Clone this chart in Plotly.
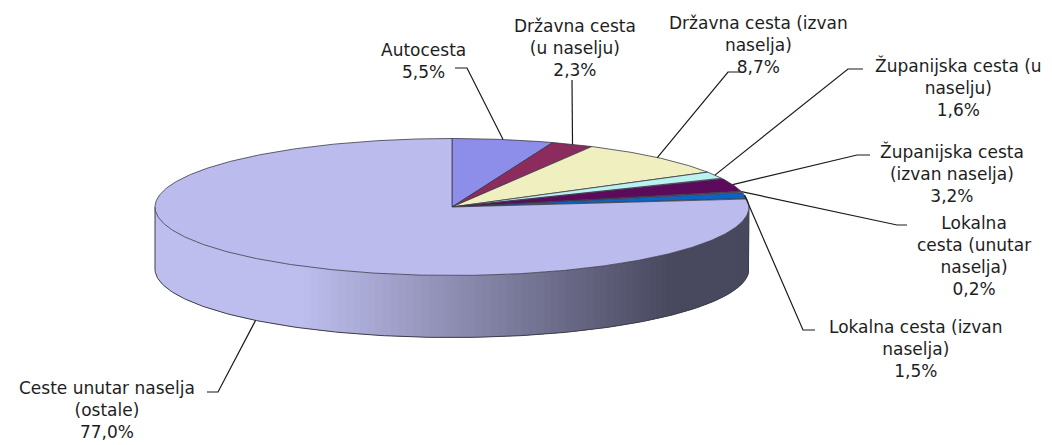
import numpy as np
import plotly.graph_objects as go

# ---------------- data ----------------
categories = [
    "Autocesta",
    "Državna cesta (u naselju)",
    "Državna cesta (izvan naselja)",
    "Županijska cesta (u naselju)",
    "Županijska cesta (izvan naselja)",
    "Lokalna cesta (unutar naselja)",
    "Lokalna cesta (izvan naselja)",
    "Ceste unutar naselja (ostale)",
]
values = [5.5, 2.3, 8.7, 1.6, 3.2, 0.2, 1.5, 77.0]
label_names = [
    "Autocesta",
    "Državna cesta<br>(u naselju)",
    "Državna cesta (izvan<br>naselja)",
    "Županijska cesta (u<br>naselju)",
    "Županijska cesta<br>(izvan naselja)",
    "Lokalna<br>cesta (unutar<br>naselja)",
    "Lokalna cesta (izvan<br>naselja)",
    "Ceste unutar naselja<br>(ostale)",
]
colors = ["#8D8DEA", "#8B2B5E", "#EFEFC0", "#BAF2F2", "#5C0B5C", "#F08080", "#0A64C8", "#BBBBEE"]

# ---------------- layout (pixel space) ----------------
W, H = 1052, 445
cx, cy, rx, ry, depth = 452.0, 207.0, 297.0, 68.5, 62.0

# label block centres and leader elbows/tails
label_x = [423, 575, 758, 958, 952, 974, 916, 107]
label_y = [61, 47.5, 45, 87.5, 173.5, 255.5, 348.5, 410]
elbow_x = [467, 572, 728, 848, 857, 897, 803, 218]
elbow_y = [68, 80, 72, 69, 155, 225, 330, 392]
tail_x = [455, 572, 740, 863, 870, 907, 815, 207]
tail_y = [68, 80, 72, 69, 155, 225, 330, 392]


def ell(theta_deg, dy=0.0):
    t = np.radians(theta_deg)
    return cx + rx * np.sin(t), cy - ry * np.cos(t) + dy


fig = go.Figure()

total = sum(values)
cum = np.concatenate([[0], np.cumsum(values)]) / total * 360.0

# ---------------- front side with gradient (last slice) ----------------
light = np.array([190, 190, 238])
dark = np.array([72, 72, 94])
a_start = max(90.0, cum[-2])
a_end = 270.0
steps = np.linspace(a_start, a_end, 121)
for b0, b1 in zip(steps[:-1], steps[1:]):
    b1e = min(a_end, b1 + 1.2)  # overlap to hide seams
    arc = np.linspace(b0, b1e, 5)
    xt, yt = ell(arc)
    xb, yb = ell(arc[::-1], depth)
    xm = (ell((b0 + b1) / 2)[0] - (cx - rx)) / (2 * rx)
    t = np.clip((xm - 0.25) / 0.62, 0, 1)
    c = (light * (1 - t) + dark * t).astype(int)
    col = f"rgb({c[0]},{c[1]},{c[2]})"
    fig.add_trace(go.Scatter(
        x=np.concatenate([xt, xb, xt[:1]]), y=np.concatenate([yt, yb, yt[:1]]),
        mode="lines", fill="toself", fillcolor=col,
        line=dict(width=0), hoverinfo="skip", showlegend=False))

# side outline
arc = np.linspace(a_start, a_end, 200)
xb, yb = ell(arc, depth)
xr0, yr0 = ell(a_start)
xl0, yl0 = ell(a_end)
fig.add_trace(go.Scatter(
    x=np.concatenate([[xr0], xb, [xl0]]), y=np.concatenate([[yr0], yb, [yl0]]),
    mode="lines", line=dict(color="#3c3c4a", width=1), hoverinfo="skip", showlegend=False))

# ---------------- top face slices ----------------
for i, v in enumerate(values):
    a0, a1 = cum[i], cum[i + 1]
    n = max(3, int((a1 - a0) * 2))
    arc = np.linspace(a0, a1, n)
    xs, ys = ell(arc)
    fig.add_trace(go.Scatter(
        x=np.concatenate([[cx], xs, [cx]]), y=np.concatenate([[cy], ys, [cy]]),
        mode="lines", fill="toself", fillcolor=colors[i],
        line=dict(color="#3a3a48", width=0.8), hoverinfo="skip",
        name=categories[i], showlegend=False))

# ---------------- leader lines + labels ----------------
for i, v in enumerate(values):
    mid = (cum[i] + cum[i + 1]) / 2
    front = 90 < mid < 270
    ax, ay = ell(mid, depth if front else 0.0)
    fig.add_trace(go.Scatter(
        x=[ax, elbow_x[i], tail_x[i]], y=[ay, elbow_y[i], tail_y[i]],
        mode="lines", line=dict(color="#1a1a1a", width=1.2),
        hoverinfo="skip", showlegend=False))
    pct = f"{v:.1f}".replace(".", ",") + "%"
    fig.add_annotation(
        x=label_x[i], y=label_y[i], xref="x", yref="y",
        text=label_names[i] + "<br>" + pct, showarrow=False,
        xanchor="center", yanchor="middle", align="center",
        font=dict(family="DejaVu Sans", size=17, color="#1e1e1e"))

fig.update_layout(
    width=W, height=H, margin=dict(l=0, r=0, t=0, b=0),
    paper_bgcolor="white", plot_bgcolor="white",
    xaxis=dict(range=[0, W], visible=False, fixedrange=True),
    yaxis=dict(range=[H, 0], visible=False, fixedrange=True),
)

fig.write_html("out.html")
